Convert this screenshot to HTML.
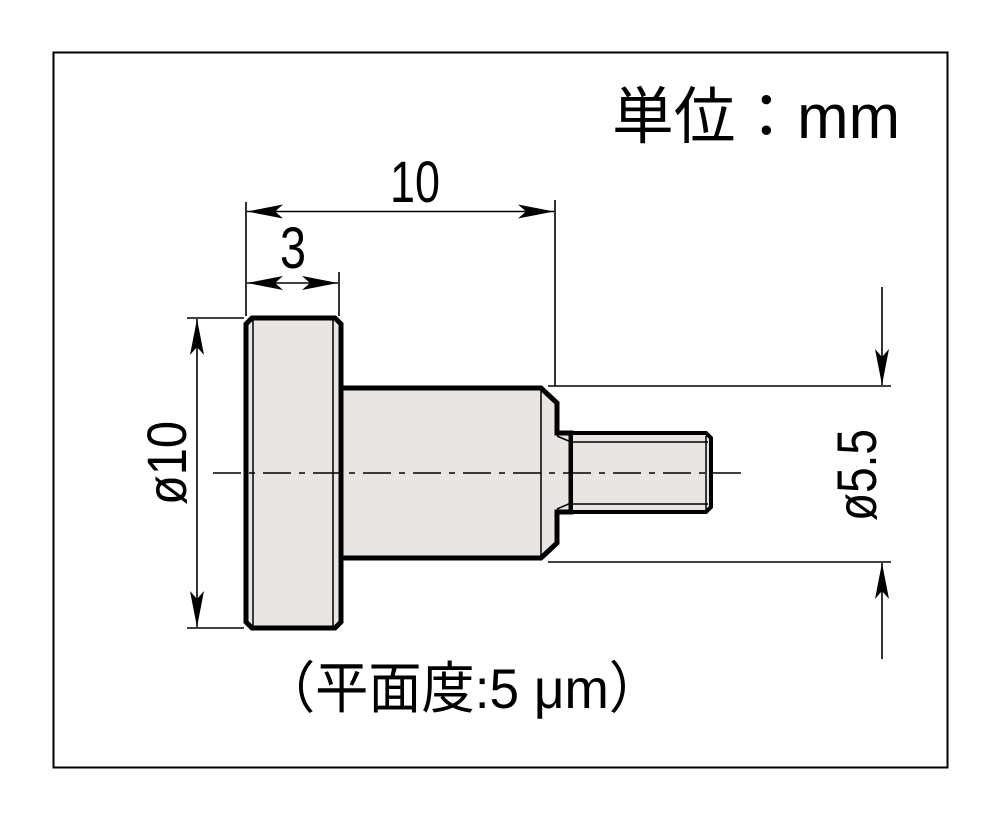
<!DOCTYPE html>
<html><head><meta charset="utf-8"><style>html,body{margin:0;padding:0;background:#fff}svg{display:block}</style></head><body>
<svg width="1000" height="820" viewBox="0 0 1000 820" xmlns="http://www.w3.org/2000/svg" font-family="'Liberation Sans','Noto Sans CJK JP',sans-serif">
<defs>
<marker id="b" viewBox="0 0 36 14" refX="36" refY="7" markerWidth="36" markerHeight="14" markerUnits="userSpaceOnUse" orient="auto-start-reverse"><path d="M0,0 L36,7 L0,14 L8,7 Z" fill="#000"/></marker>
</defs>
<rect x="53.5" y="52.5" width="894" height="715" fill="none" stroke="#000" stroke-width="2"/>
<text x="900" y="138" font-size="62" text-anchor="end" textLength="288" lengthAdjust="spacingAndGlyphs">単位：mm</text>
<g fill="#e8e5e3" stroke="#000" stroke-linejoin="miter">
<path d="M341,388 L541,388 L557,403 L557,433 L571,433 L571,512 L557,512 L557,543 L541,558 L341,558 Z" stroke-width="5"/>
<path d="M571,433 L706,433 L711,438 L711,507 L706,512 L571,512 Z" stroke-width="4"/>
<path d="M252,318 L335,318 L341,324 L341,622 L335,628 L252,628 L246,622 L246,324 Z" stroke-width="5"/>
</g>
<g stroke="#000" fill="none" stroke-width="1.5">
<line x1="253" y1="320" x2="253" y2="626"/><line x1="333" y1="320" x2="333" y2="626"/>
<line x1="541" y1="390" x2="541" y2="556"/>
<line x1="557" y1="436" x2="571" y2="442"/><line x1="557" y1="509" x2="571" y2="503"/>
<line x1="571" y1="442" x2="708" y2="442"/><line x1="571" y1="504" x2="708" y2="504"/>
<line x1="706" y1="436" x2="706" y2="510"/>
<line x1="213" y1="473" x2="745" y2="473" stroke-dasharray="28,8,6,8"/>
</g>
<g stroke="#000" stroke-width="1.6" fill="none">
<line x1="246" y1="202" x2="246" y2="316"/>
<line x1="555" y1="200" x2="555" y2="386"/>
<line x1="339" y1="272" x2="339" y2="316"/>
<line x1="247" y1="211.5" x2="554" y2="211.5" marker-start="url(#b)" marker-end="url(#b)"/>
<line x1="247" y1="283" x2="338" y2="283" marker-start="url(#b)" marker-end="url(#b)"/>
<line x1="187" y1="318" x2="244" y2="318"/><line x1="187" y1="628" x2="244" y2="628"/>
<line x1="197" y1="319" x2="197" y2="627" marker-start="url(#b)" marker-end="url(#b)"/>
<line x1="548" y1="386" x2="891" y2="386"/><line x1="548" y1="562" x2="891" y2="562"/>
<line x1="882" y1="287" x2="882" y2="385" marker-end="url(#b)"/>
<line x1="882" y1="659" x2="882" y2="563" marker-end="url(#b)"/>
</g>
<text x="415" y="202" font-size="58" text-anchor="middle" textLength="50" lengthAdjust="spacingAndGlyphs">10</text>
<text x="293" y="268" font-size="58" text-anchor="middle" textLength="26" lengthAdjust="spacingAndGlyphs">3</text>
<text transform="translate(186,463) rotate(-90)" font-size="56" text-anchor="middle" textLength="84" lengthAdjust="spacingAndGlyphs">ø10</text>
<text transform="translate(876,475) rotate(-90)" font-size="56" text-anchor="middle" textLength="92" lengthAdjust="spacingAndGlyphs">ø5.5</text>
<text x="262" y="708" font-size="56" textLength="400" lengthAdjust="spacingAndGlyphs">（平面度:5 μm）</text>
</svg>
</body></html>
